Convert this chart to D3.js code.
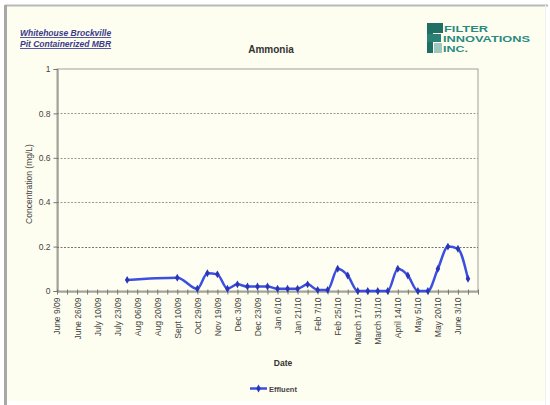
<!DOCTYPE html>
<html><head><meta charset="utf-8">
<script src="https://cdn.jsdelivr.net/npm/d3@7"></script>
<style>
html,body{margin:0;padding:0;background:#fff;}
svg{display:block;font-family:"Liberation Sans",Arial,sans-serif;}
</style></head>
<body>
<svg id="c" width="550" height="405"></svg>
<script>
// ---- data ----
const tickLabels = ["June 9/09","June 26/09","July 10/09","July 23/09","Aug 06/09","Aug 20/09","Sept 10/09","Oct 29/09","Nov 19/09","Dec 3/09","Dec 23/09","Jan 6/10","Jan 21/10","Feb 7/10","Feb 25/10","March 17/10","March 31/10","April 14/10","May 5/10","May 20/10","June 3/10"];
const categoryCount = 43;
const effluent = [null,null,null,null,null,null,null,0.05,null,null,null,null,0.06,null,0.01,0.08,0.075,0.01,0.03,0.02,0.02,0.02,0.01,0.01,0.01,0.03,0.005,0.005,0.1,0.07,0,0,0,0,0.1,0.07,0,0,0.1,0.2,0.19,0.055,null];
const yTicks = [0,0.2,0.4,0.6,0.8,1];
const seriesName = "Effluent";
const titleText = "Ammonia";
const subtitleLines = ["Whitehouse Brockville","Pit Containerized MBR"];
const logoLines = ["FILTER","INNOVATIONS","INC."];

// ---- layout ----
const svg = d3.select("#c");
const W = 550, H = 405;
const P = {l:57, t:69, r:478, b:291};
const FF = "Liberation Sans, Arial, sans-serif";

// chart background
svg.append("rect").attr("x",0).attr("y",0).attr("width",W).attr("height",H).attr("fill","#ffffff");
svg.append("rect").attr("x",5).attr("y",5).attr("width",540).attr("height",396).attr("fill","#fefef0");
svg.append("line").attr("x1",5).attr("x2",548).attr("y1",5.5).attr("y2",5.5).attr("stroke","#b8b8b8").attr("stroke-width",2);
svg.append("line").attr("x1",5.5).attr("x2",5.5).attr("y1",5).attr("y2",405).attr("stroke","#a8a8a8").attr("stroke-width",3);
svg.append("line").attr("x1",545.5).attr("x2",545.5).attr("y1",5).attr("y2",405).attr("stroke","#f0f0f0").attr("stroke-width",1);

// scales
const idx = d3.range(categoryCount);
const x = d3.scalePoint().domain(idx).range([P.l, P.r]);
const y = d3.scaleLinear().domain([0,1]).range([P.b, P.t]);

// plot area
svg.append("rect").attr("x",P.l).attr("y",P.t).attr("width",P.r-P.l).attr("height",P.b-P.t)
  .attr("fill","#fefef2").attr("stroke","#a0a098").attr("stroke-width",1);

// grid
svg.append("g").selectAll("line").data(yTicks.filter(v=>v>0 && v<1)).join("line")
  .attr("x1",P.l).attr("x2",P.r).attr("y1",d=>Math.round(y(d))+0.5).attr("y2",d=>Math.round(y(d))+0.5)
  .attr("stroke",d=>d===0.2?"#77776f":"#9a9a92").attr("stroke-width",1).attr("stroke-dasharray","2,1.5");

// y axis
const yAxis = d3.axisLeft(y).tickValues(yTicks).tickSize(4).tickFormat(d=>d===0?"0":(d===1?"1":d3.format(".1f")(d)));
const gy = svg.append("g").attr("transform",`translate(${P.l+0.5},0)`).call(yAxis);
gy.select(".domain").attr("stroke","#77776f");
gy.selectAll(".tick line").attr("stroke","#77776f");
gy.selectAll(".tick text").attr("font-size",8.5).attr("fill","#444").attr("x",-7).attr("font-family",FF);

// x axis
const labelMap = new Map(tickLabels.map((t,i)=>[i*2,t]));
const xAxis = d3.axisBottom(x).tickValues(idx).tickSize(3).tickSizeOuter(0).tickFormat(d=>labelMap.get(d)||"");
const gx = svg.append("g").attr("transform",`translate(0,${P.b+0.5})`).call(xAxis);
gx.select(".domain").attr("stroke","#77776f");
gx.selectAll(".tick line").attr("stroke","#77776f").attr("y1",-2).attr("y2",3);
gx.selectAll(".tick text").attr("font-size",8.5).attr("fill","#444")
  .attr("font-family",FF)
  .attr("transform","rotate(-90)").attr("text-anchor","end")
  .attr("x",-6).attr("y",0).attr("dy","0.35em");

// axis titles
svg.append("text").attr("x",283).attr("y",366).attr("text-anchor","middle")
  .attr("font-size",8.5).attr("font-weight","bold").attr("fill","#333").text("Date");
svg.append("text").attr("transform","translate(32,184) rotate(-90)").attr("text-anchor","middle")
  .attr("font-size",8.5).attr("fill","#444").text("Concentration (mg/L)");

// title and subtitle
svg.append("text").attr("x",271).attr("y",53).attr("text-anchor","middle")
  .attr("font-size",10).attr("font-weight","bold").attr("fill","#333").text(titleText);
subtitleLines.forEach((t,i)=>{
  svg.append("text").attr("x",20).attr("y",36+i*11).attr("font-size",8.5)
    .attr("font-weight","bold").attr("font-style","italic").attr("fill","#3a3a8c")
    .attr("text-decoration","underline").text(t);
});

// logo
const logo = svg.append("g");
logo.append("rect").attr("x",427).attr("y",23).attr("width",6).attr("height",30).attr("fill","#1f6f64");
logo.append("rect").attr("x",427).attr("y",23).attr("width",16).attr("height",10).attr("fill","#1f6f64");
logo.append("rect").attr("x",427).attr("y",34).attr("width",14).attr("height",8).attr("fill","#2a8073");
logo.append("rect").attr("x",434).attr("y",43).attr("width",8).attr("height",10).attr("fill","#9cc8bf");
const logoX = [444,443,443], logoW = [44,87,25];
logoLines.forEach((t,i)=>{
  logo.append("text").attr("x",logoX[i]).attr("y",31.5+i*10).attr("font-size",9).attr("font-weight","bold")
    .attr("fill","#2a8a80").attr("textLength",logoW[i]).attr("lengthAdjust","spacingAndGlyphs").text(t);
});

// series
const pts = effluent.map((v,i)=>({i,v})).filter(d=>d.v!==null);
const color = "#3b4fe0";
const line = d3.line().x(d=>x(d.i)).y(d=>y(d.v)).curve(d3.curveMonotoneX);
svg.append("path").datum(pts).attr("d",line).attr("fill","none").attr("stroke",color).attr("stroke-width",2.5);
const diamond = d3.symbol().type(d3.symbolDiamond).size(18);
svg.append("g").selectAll("path").data(pts).join("path")
  .attr("d",diamond).attr("transform",d=>`translate(${x(d.i)},${y(d.v)})`).attr("fill","#2a35b8");

// legend
svg.append("line").attr("x1",250).attr("x2",267).attr("y1",388.5).attr("y2",388.5).attr("stroke",color).attr("stroke-width",2.5);
svg.append("path").attr("d",diamond).attr("transform","translate(258.5,388.5)").attr("fill","#2a35b8");
svg.append("text").attr("x",269).attr("y",391.5).attr("font-size",7.5).attr("font-weight","bold").attr("fill","#444").text(seriesName);
</script>
</body></html>
